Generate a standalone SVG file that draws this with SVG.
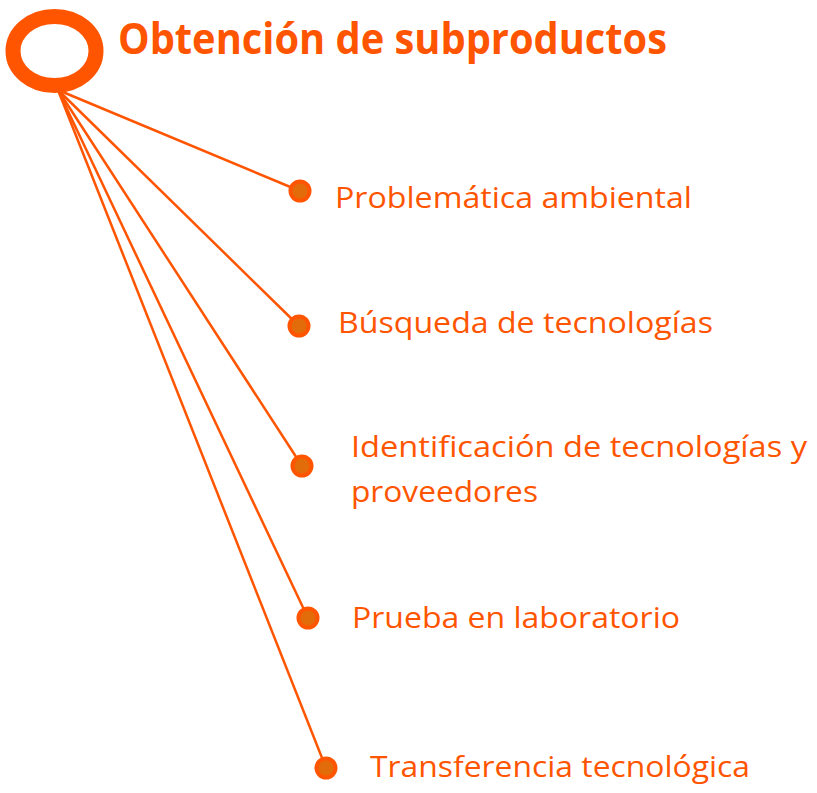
<svg xmlns="http://www.w3.org/2000/svg" width="817" height="793" viewBox="0 0 817 793">
<style>
.conn{stroke:#FF5500;stroke-width:2.5;fill:none}
.dot{fill:#E36C0A;stroke:#FF5500;stroke-width:4}
.lbl{font-family:"Open Sans","Noto Sans","Liberation Sans",sans-serif;font-size:30px;fill:#FF5500}
.title{font-family:"Open Sans","Noto Sans","Liberation Sans",sans-serif;font-size:43px;font-weight:bold;fill:#FF5500}
</style>
<rect width="817" height="793" fill="#FFFFFF"/>
<g id="connectors">
<line class="conn" x1="58" y1="90" x2="300" y2="191"/>
<line class="conn" x1="58" y1="90" x2="299" y2="326"/>
<line class="conn" x1="58" y1="90" x2="302" y2="466"/>
<line class="conn" x1="58" y1="90" x2="308" y2="618"/>
<line class="conn" x1="58" y1="90" x2="326" y2="768"/>
</g>
<g id="root">
<ellipse cx="54.5" cy="51" rx="41.5" ry="34.5" fill="none" stroke="#FF5500" stroke-width="15"/>
<text class="title" x="118" y="54" textLength="549" lengthAdjust="spacingAndGlyphs">Obtención de subproductos</text>
</g>
<g id="node1">
<circle class="dot" cx="300" cy="191" r="9.5"/>
<text class="lbl" x="335" y="208" textLength="357" lengthAdjust="spacingAndGlyphs">Problemática ambiental</text>
</g>
<g id="node2">
<circle class="dot" cx="299" cy="326" r="9.5"/>
<text class="lbl" x="338" y="333" textLength="375" lengthAdjust="spacingAndGlyphs">Búsqueda de tecnologías</text>
</g>
<g id="node3">
<circle class="dot" cx="302" cy="466" r="9.5"/>
<text class="lbl" x="351" y="457" textLength="456" lengthAdjust="spacingAndGlyphs">Identificación de tecnologías y</text>
<text class="lbl" x="351" y="502" textLength="187" lengthAdjust="spacingAndGlyphs">proveedores</text>
</g>
<g id="node4">
<circle class="dot" cx="308" cy="618" r="9.5"/>
<text class="lbl" x="352" y="628" textLength="328" lengthAdjust="spacingAndGlyphs">Prueba en laboratorio</text>
</g>
<g id="node5">
<circle class="dot" cx="326" cy="768" r="9.5"/>
<text class="lbl" x="370" y="777" textLength="380" lengthAdjust="spacingAndGlyphs">Transferencia tecnológica</text>
</g>
</svg>
